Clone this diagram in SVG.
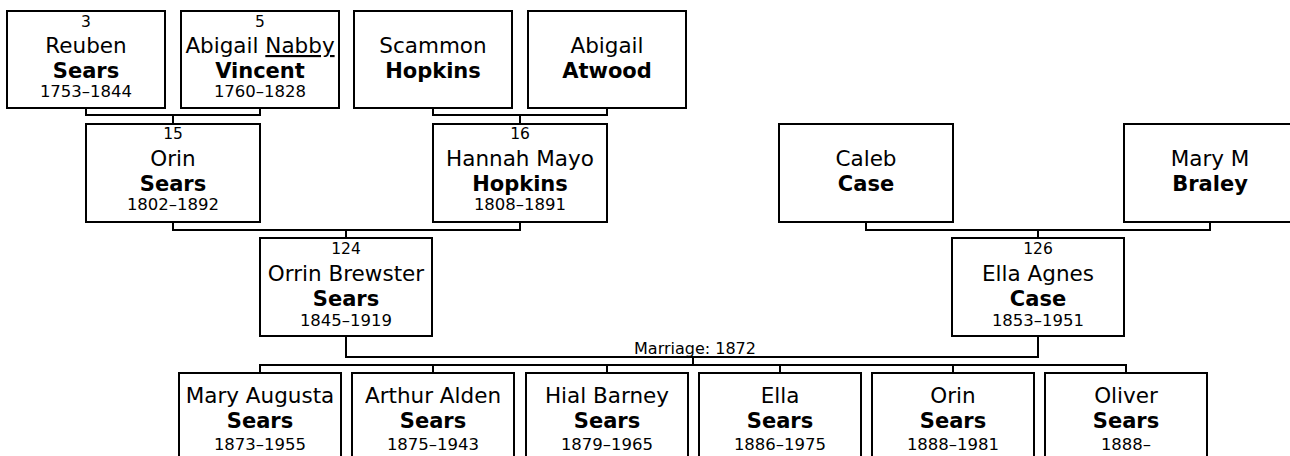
<svg xmlns="http://www.w3.org/2000/svg" width="1290" height="456" viewBox="0 0 1290 456">
<style>
.box{fill:#fff;stroke:#000;stroke-width:2}
.con{fill:none;stroke:#000;stroke-width:2}
text{font-family:"DejaVu Sans","Verdana",sans-serif;fill:#000;text-anchor:middle}
.num{font-size:15.5px}
.nm{font-size:21.5px}
.sn{font-size:21px;font-weight:bold}
.dt{font-size:16.5px}
.lbl{font-size:16px}
</style>
<rect width="1290" height="456" fill="#fff"/>
<g id="connectors">
<path class="con" d="M86,108V115H260V108M173,115V124"/>
<path class="con" d="M433,108V115H607V108M520,115V124"/>
<path class="con" d="M173,222V230H520V222M346,230V238"/>
<path class="con" d="M866,222V230H1210V222M1038,230V238"/>
<path class="con" d="M346,336V357H1038V336M693,357V365"/>
<path class="con" d="M260,373V365H1126V373M433,365V373M607,365V373M780,365V373M953,365V373"/>
<text class="lbl" x="695" y="354">Marriage: 1872</text>
</g>
<g id="p3"><rect class="box" x="7" y="11" width="158" height="97"/>
<text class="num" x="86" y="27">3</text><text class="nm" x="86" y="53">Reuben</text><text class="sn" x="86" y="78">Sears</text><text class="dt" x="86" y="97">1753–1844</text></g>
<g id="p5"><rect class="box" x="181" y="11" width="158" height="97"/>
<text class="num" x="260" y="27">5</text><text class="nm" x="260" y="53">Abigail <tspan text-decoration="underline">Nabby</tspan></text><text class="sn" x="260" y="78">Vincent</text><text class="dt" x="260" y="97">1760–1828</text></g>
<g id="scammon"><rect class="box" x="354" y="11" width="158" height="97"/>
<text class="nm" x="433" y="53">Scammon</text><text class="sn" x="433" y="78">Hopkins</text></g>
<g id="atwood"><rect class="box" x="528" y="11" width="158" height="97"/>
<text class="nm" x="607" y="53">Abigail</text><text class="sn" x="607" y="78">Atwood</text></g>
<g id="p15"><rect class="box" x="86" y="124" width="174" height="98"/>
<text class="num" x="173" y="139">15</text><text class="nm" x="173" y="166">Orin</text><text class="sn" x="173" y="191">Sears</text><text class="dt" x="173" y="210">1802–1892</text></g>
<g id="p16"><rect class="box" x="433" y="124" width="174" height="98"/>
<text class="num" x="520" y="139">16</text><text class="nm" x="520" y="166">Hannah Mayo</text><text class="sn" x="520" y="191">Hopkins</text><text class="dt" x="520" y="210">1808–1891</text></g>
<g id="caleb"><rect class="box" x="779" y="124" width="174" height="98"/>
<text class="nm" x="866" y="166">Caleb</text><text class="sn" x="866" y="191">Case</text></g>
<g id="marym"><rect class="box" x="1124" y="124" width="174" height="98"/>
<text class="nm" x="1210" y="166">Mary M</text><text class="sn" x="1210" y="191">Braley</text></g>
<g id="p124"><rect class="box" x="260" y="238" width="172" height="98"/>
<text class="num" x="346" y="254">124</text><text class="nm" x="346" y="281">Orrin Brewster</text><text class="sn" x="346" y="306">Sears</text><text class="dt" x="346" y="326">1845–1919</text></g>
<g id="p126"><rect class="box" x="952" y="238" width="172" height="98"/>
<text class="num" x="1038" y="254">126</text><text class="nm" x="1038" y="281">Ella Agnes</text><text class="sn" x="1038" y="306">Case</text><text class="dt" x="1038" y="326">1853–1951</text></g>
<g id="c1"><rect class="box" x="179" y="373" width="162" height="98"/>
<text class="nm" x="260" y="403">Mary Augusta</text><text class="sn" x="260" y="428">Sears</text><text class="dt" x="260" y="450">1873–1955</text></g>
<g id="c2"><rect class="box" x="352" y="373" width="162" height="98"/>
<text class="nm" x="433" y="403">Arthur Alden</text><text class="sn" x="433" y="428">Sears</text><text class="dt" x="433" y="450">1875–1943</text></g>
<g id="c3"><rect class="box" x="526" y="373" width="162" height="98"/>
<text class="nm" x="607" y="403">Hial Barney</text><text class="sn" x="607" y="428">Sears</text><text class="dt" x="607" y="450">1879–1965</text></g>
<g id="c4"><rect class="box" x="699" y="373" width="162" height="98"/>
<text class="nm" x="780" y="403">Ella</text><text class="sn" x="780" y="428">Sears</text><text class="dt" x="780" y="450">1886–1975</text></g>
<g id="c5"><rect class="box" x="872" y="373" width="162" height="98"/>
<text class="nm" x="953" y="403">Orin</text><text class="sn" x="953" y="428">Sears</text><text class="dt" x="953" y="450">1888–1981</text></g>
<g id="c6"><rect class="box" x="1045" y="373" width="162" height="98"/>
<text class="nm" x="1126" y="403">Oliver</text><text class="sn" x="1126" y="428">Sears</text><text class="dt" x="1126" y="450">1888–</text></g>
</svg>
